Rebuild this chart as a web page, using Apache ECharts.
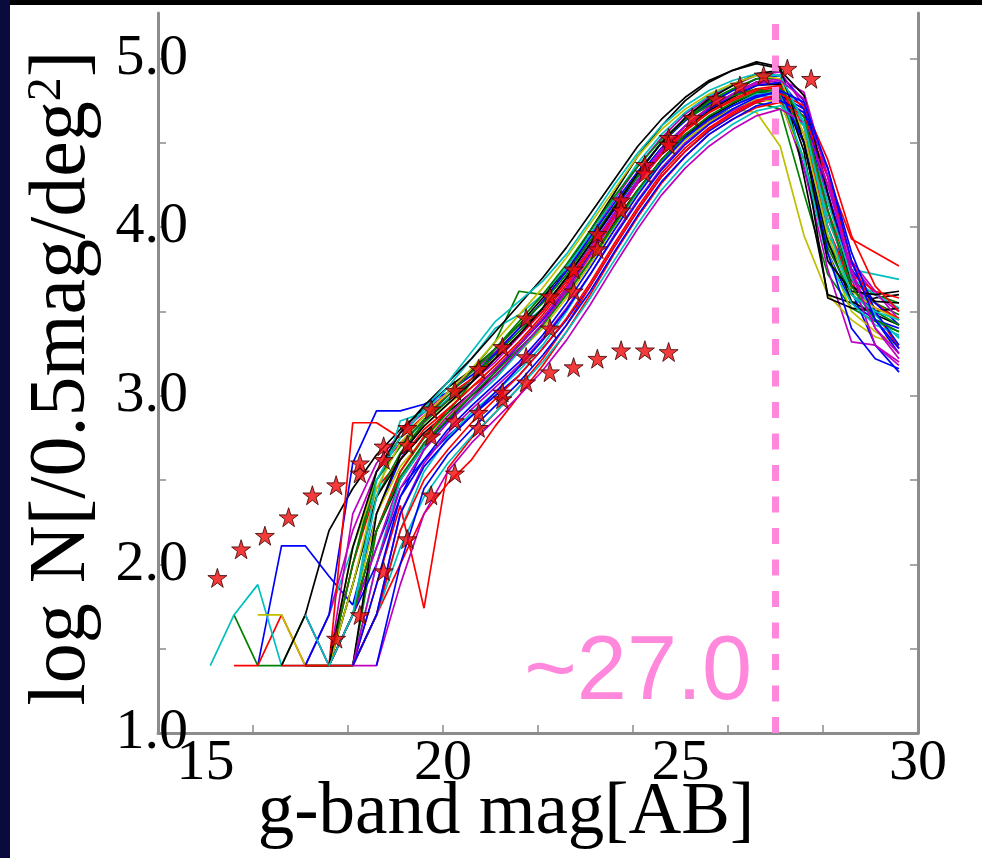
<!DOCTYPE html>
<html><head><meta charset="utf-8">
<script src="https://cdn.jsdelivr.net/npm/echarts@6/dist/echarts.min.js"></script>
<style>html,body{margin:0;padding:0;background:#fff;}#c{width:982px;height:858px;}</style>
</head><body><div id="c"></div>
<script>
// ---------- data ----------
const simMags = [15.1,15.6,16.1,16.6,17.1,17.6,18.1,18.6,19.1,19.6,20.1,20.6,21.1,21.6,22.1,22.6,23.1,23.6,24.1,24.6,25.1,25.6,26.1,26.6,27.1,27.6,28.1,28.6,29.1,29.6];
const n = null;
const sim01 = [n,n,1.40,2.11,2.11,1.93,1.76,2.30,2.62,2.85,2.98,3.08,3.22,3.36,3.52,3.70,3.90,4.10,4.30,4.47,4.60,4.71,4.79,4.86,4.84,4.35,3.85,3.55,3.45,3.40];
const sim02 = [n,1.70,1.40,1.40,1.70,1.40,2.00,2.55,2.75,2.92,3.05,3.15,3.32,3.62,3.60,3.74,3.92,4.12,4.30,4.44,4.55,4.64,4.70,4.74,4.70,4.20,3.72,3.52,3.44,3.38];
const sim03 = [n,1.40,1.40,1.70,1.40,1.40,2.00,2.45,2.62,2.80,2.92,3.05,3.15,3.30,3.45,3.62,3.82,4.03,4.22,4.40,4.53,4.63,4.70,4.75,4.78,4.62,4.30,3.93,3.85,3.77];
const sim04 = [1.40,1.70,1.88,1.40,1.40,1.70,2.10,2.50,2.70,2.85,2.98,3.10,3.25,3.40,3.52,3.68,3.88,4.08,4.28,4.46,4.60,4.70,4.78,4.85,4.85,4.50,3.95,3.75,3.72,3.69];
const sim05 = [n,n,n,n,1.40,1.70,2.20,2.55,2.72,2.85,2.97,3.08,3.20,3.35,3.50,3.68,3.88,4.08,4.27,4.43,4.55,4.65,4.72,4.78,4.76,4.35,3.75,3.32,3.30,3.20];
const sim06 = [n,n,1.70,1.70,1.40,1.40,2.10,2.50,2.70,2.82,2.95,3.05,3.18,3.32,3.46,3.62,3.82,4.02,4.22,4.38,4.52,4.62,4.70,4.68,4.48,3.95,3.60,3.45,3.35,3.30];
const sim07 = [n,n,n,1.40,1.70,2.20,2.45,2.65,2.80,2.92,3.05,3.15,3.28,3.42,3.58,3.76,3.98,4.20,4.42,4.60,4.75,4.86,4.93,4.98,4.95,4.30,3.60,3.55,3.58,3.60];
const sim08 = [n,n,n,n,n,1.40,1.70,2.10,2.45,2.62,2.76,2.88,3.00,3.12,3.28,3.45,3.65,3.88,4.10,4.30,4.45,4.57,4.66,4.74,4.78,4.70,4.10,3.62,3.30,3.14];
const sim09 = [n,n,n,n,1.40,1.40,1.88,2.40,2.66,2.84,2.97,3.10,3.24,3.38,3.52,3.70,3.90,4.12,4.32,4.50,4.64,4.74,4.81,4.88,4.90,4.60,4.00,3.62,3.55,3.48];
const sim10 = [n,n,n,n,n,n,1.40,1.88,2.35,1.74,2.57,2.75,2.90,3.05,3.22,3.42,3.65,3.88,4.10,4.30,4.45,4.58,4.67,4.74,4.77,4.62,4.05,3.70,3.55,3.45];
const sim11 = [n,n,n,n,n,1.40,1.40,1.70,2.20,2.55,2.75,2.90,3.02,3.15,3.30,3.50,3.72,3.95,4.16,4.35,4.50,4.62,4.70,4.77,4.80,4.55,3.95,3.60,3.45,3.35];
const sim12 = [n,n,n,n,1.70,1.40,2.30,2.60,2.78,2.90,3.02,3.14,3.26,3.40,3.56,3.74,3.95,4.16,4.36,4.53,4.67,4.77,4.84,4.90,4.92,4.72,4.15,3.78,3.60,3.50];
const sim13 = [n,n,n,n,n,1.40,1.70,2.30,2.58,2.75,2.88,3.00,3.12,3.26,3.40,3.58,3.78,4.00,4.20,4.38,4.52,4.62,4.70,4.76,4.74,4.40,3.85,3.50,3.38,3.30];
const sim14 = [n,n,n,n,n,1.40,1.88,2.40,2.62,2.78,2.90,3.02,3.16,3.30,3.46,3.64,3.84,4.06,4.26,4.44,4.58,4.69,4.77,4.84,4.85,4.45,3.58,3.52,3.50,3.52];
const sim15 = [n,n,n,n,1.40,1.70,2.60,2.91,2.91,2.95,3.02,3.12,3.25,3.40,3.56,3.74,3.94,4.14,4.33,4.50,4.63,4.73,4.81,4.88,4.90,4.75,4.20,3.75,3.55,3.42];
const sim16 = [n,n,n,n,n,1.40,2.84,2.84,2.75,2.88,3.00,3.10,3.22,3.36,3.50,3.68,3.86,4.06,4.26,4.44,4.58,4.68,4.75,4.81,4.83,4.60,4.10,3.72,3.62,3.58];
const sim17 = [n,n,n,n,n,n,1.40,2.20,2.55,2.75,2.90,3.08,3.28,3.42,3.55,3.72,3.92,4.12,4.32,4.50,4.64,4.75,4.82,4.88,4.88,4.50,3.90,3.68,3.60,3.55];
const sim18 = [n,n,n,n,n,1.40,1.70,2.40,2.85,2.90,3.05,3.22,3.40,3.48,3.60,3.76,3.96,4.17,4.38,4.55,4.68,4.78,4.85,4.90,4.90,4.60,4.05,3.70,3.60,3.52];
const sim19 = [n,n,n,n,n,n,1.40,1.70,2.30,2.60,2.78,2.92,3.05,3.18,3.34,3.52,3.72,3.95,4.16,4.35,4.50,4.61,4.69,4.75,4.77,4.68,4.25,3.80,3.62,3.45];
const sim20 = [n,n,n,n,1.40,1.40,1.70,2.20,2.50,2.70,2.86,3.00,3.12,3.26,3.42,3.60,3.80,4.02,4.22,4.40,4.54,4.65,4.73,4.80,4.80,4.50,3.92,3.56,3.48,3.42];
const sim21 = [n,n,n,n,n,1.40,1.70,2.00,2.40,2.68,2.85,3.00,3.14,3.30,3.45,3.62,3.84,4.06,4.27,4.45,4.60,4.70,4.78,4.84,4.86,4.70,4.20,3.72,3.45,3.25];
const sim22 = [n,n,n,n,n,n,1.40,1.70,2.00,2.30,2.48,2.62,2.82,3.00,3.18,3.38,3.60,3.84,4.06,4.26,4.42,4.55,4.64,4.71,4.74,4.66,4.30,3.80,3.50,3.28];
const sim23 = [n,n,n,n,n,1.40,2.00,2.50,2.70,2.86,3.00,3.14,3.28,3.44,3.60,3.78,3.98,4.18,4.36,4.52,4.64,4.72,4.78,4.82,4.78,4.40,3.88,3.60,3.50,3.42];
const sim24 = [n,n,n,n,n,n,1.70,2.10,2.50,2.72,2.88,3.02,3.16,3.30,3.46,3.64,3.86,4.08,4.28,4.46,4.60,4.71,4.79,4.86,4.88,4.80,4.30,3.70,3.30,3.18];
const sim25 = [n,n,n,1.40,1.40,1.40,1.70,2.20,2.55,2.76,2.92,3.05,3.18,3.32,3.48,3.66,3.86,4.06,4.26,4.43,4.57,4.68,4.76,4.82,4.84,4.55,4.00,3.66,3.52,3.46];
const sim26 = [n,n,n,n,1.70,1.40,1.40,2.00,2.50,2.70,2.84,2.97,3.10,3.26,3.42,3.60,3.80,4.01,4.21,4.39,4.53,4.64,4.72,4.79,4.80,4.40,3.80,3.55,3.42,3.36];
const sim27 = [n,n,n,n,n,1.40,1.40,2.30,2.65,2.82,2.95,3.08,3.22,3.36,3.52,3.70,3.90,4.11,4.32,4.50,4.65,4.76,4.84,4.91,4.93,4.78,4.20,3.65,3.56,3.55];
const sim28 = [n,n,n,n,n,n,1.40,1.88,2.40,2.62,2.80,2.94,3.07,3.20,3.36,3.55,3.76,3.98,4.19,4.38,4.53,4.64,4.72,4.78,4.80,4.50,3.85,3.40,3.22,3.16];
const sim29 = [n,n,n,n,n,n,1.40,1.70,2.10,2.40,2.60,2.76,2.90,3.05,3.20,3.38,3.58,3.80,4.02,4.22,4.38,4.51,4.61,4.69,4.72,4.60,4.15,3.70,3.48,3.34];
const sim30 = [n,n,n,n,n,n,1.40,1.40,1.88,2.30,2.55,2.72,2.86,3.00,3.15,3.33,3.54,3.77,3.99,4.19,4.35,4.48,4.58,4.66,4.70,4.62,4.25,3.75,3.40,3.22];
const sim31 = [n,n,n,n,n,n,n,1.40,2.00,2.45,2.65,2.80,2.94,3.08,3.24,3.42,3.62,3.85,4.07,4.27,4.42,4.55,4.64,4.72,4.75,4.68,4.35,3.85,3.50,3.30];
const sim32 = [n,n,n,n,n,1.40,1.88,2.45,2.72,2.88,3.02,3.16,3.32,3.48,3.64,3.82,4.02,4.22,4.42,4.58,4.70,4.79,4.85,4.90,4.88,4.55,3.95,3.62,3.52,3.45];
const sim33 = [n,n,n,n,n,1.40,2.10,2.55,2.78,2.94,3.08,3.22,3.38,3.54,3.70,3.88,4.08,4.28,4.48,4.64,4.77,4.87,4.93,4.97,4.94,4.50,3.80,3.62,3.60,3.62];
const sim34 = [n,n,n,n,n,n,1.70,2.20,2.52,2.72,2.86,3.00,3.14,3.28,3.42,3.60,3.80,4.01,4.22,4.40,4.55,4.66,4.74,4.80,4.82,4.65,4.10,3.65,3.45,3.38];
const sim35 = [n,n,n,n,n,1.40,1.40,1.70,2.20,2.50,2.68,2.84,2.98,3.12,3.28,3.46,3.67,3.90,4.12,4.32,4.47,4.59,4.68,4.75,4.79,4.72,4.40,3.95,3.65,3.50];
const sim36 = [n,n,n,n,n,1.40,1.70,2.50,2.75,2.92,3.08,3.26,3.44,3.56,3.68,3.84,4.04,4.25,4.44,4.60,4.72,4.81,4.87,4.91,4.90,4.62,4.00,3.60,3.50,3.45];
const sim37 = [n,n,n,n,n,n,1.40,2.00,2.45,2.68,2.84,2.98,3.12,3.27,3.43,3.62,3.83,4.05,4.26,4.45,4.60,4.71,4.79,4.85,4.87,4.76,4.30,3.72,3.40,3.25];
const sim38 = [n,n,n,n,n,n,1.40,1.70,2.30,2.58,2.74,2.88,3.02,3.17,3.33,3.51,3.72,3.94,4.15,4.34,4.49,4.61,4.70,4.77,4.81,4.74,4.35,3.80,3.45,3.28];
const simLines = [sim01,sim02,sim03,sim04,sim05,sim06,sim07,sim08,sim09,sim10,sim11,sim12,sim13,sim14,sim15,sim16,sim17,sim18,sim19,sim20,sim21,sim22,sim23,sim24,sim25,sim26,sim27,sim28,sim29,sim30,sim31,sim32,sim33,sim34,sim35,sim36,sim37,sim38];
const simColors = ['#0000ff','#008000','#ff0000','#00bfbf','#bf00bf','#bfbf00','#000000','#0000ff','#008000','#ff0000','#00bfbf','#bf00bf','#bfbf00','#000000','#0000ff','#ff0000','#008000','#00bfbf','#bf00bf','#000000','#0000ff','#ff0000','#008000','#bf00bf','#ff0000','#00bfbf','#000000','#0000ff','#00bfbf','#bf00bf','#0000ff','#bfbf00','#000000','#008000','#ff0000','#00bfbf','#bf00bf','#0000ff'];

// observed counts (stars)
const starMagsA = [15.25,15.75,16.25,16.75,17.25,17.75,18.25,18.75,19.25,19.75,20.25,20.75,21.25,21.75,22.25,22.75,23.25,23.75,24.25,24.75];
const starLogNA = [1.92,2.09,2.17,2.28,2.41,2.47,2.54,2.62,2.71,2.76,2.85,2.90,2.98,3.08,3.14,3.17,3.22,3.27,3.27,3.26];
const starMagsB = [18.25,18.75,19.25,19.75,20.25,20.75,21.25,21.75,22.25,22.75,23.25,23.75,24.25,24.75,25.25,25.75,26.25,26.75,27.25,27.75];
const starLogNB = [2.60,2.70,2.81,2.92,3.03,3.16,3.29,3.46,3.59,3.75,3.96,4.16,4.37,4.53,4.65,4.76,4.84,4.90,4.94,4.88];
const starMagsC = [17.75,18.25,18.75,19.25,19.75,20.25,20.75,21.25,21.75,22.25,22.75,23.25,23.75,24.25,24.75];
const starLogNC = [1.56,1.70,1.96,2.15,2.41,2.54,2.81,3.02,3.23,3.40,3.62,3.87,4.10,4.32,4.49];

const xTickValues = [16,18,20,22,24,26,28];
const xTickLabels = [15,20,25,30];
const yTickValues = [1.5,2.0,2.5,3.0,3.5,4.0,4.5,5.0];
const yTickLabels = [1,2,3,4,5];
const limitMag = 27.0;
const limitLabel = '~27.0';
const xTitle = 'g-band mag[AB]';
const yTitle = 'log N[/0.5mag/deg{s|2}]';

// ---------- chart ----------
const STAR = 'path://M50,0 L61.8,36.2 L100,36.2 L69.1,58.8 L80.9,95.1 L50,72.7 L19.1,95.1 L30.9,58.8 L0,36.2 L38.2,36.2 Z';
const axisGray = '#8c8c8c';
const serif = '"Liberation Serif","Times New Roman",serif';
const series = [];
simLines.forEach((arr, k) => {
  const d = [];
  arr.forEach((v, i) => { if (v !== null) d.push([simMags[i], v]); });
  series.push({type:'line', data:d, symbol:'none', silent:true, z:2,
    lineStyle:{color:simColors[k], width:1.7}, emphasis:{disabled:true}});
});
series.push({type:'line', data:[[limitMag,1.0],[limitMag,5.22]], symbol:'none', silent:true, z:3,
  lineStyle:{color:'#ff88dd', width:7, type:[16,15.5], cap:'butt'}});
[[starMagsA,starLogNA],[starMagsB,starLogNB],[starMagsC,starLogNC]].forEach(([xs,ys]) => {
  series.push({type:'scatter', data:xs.map((m,i)=>[m,ys[i]]), symbol:STAR, symbolSize:19, z:4, silent:true,
    itemStyle:{color:'#f00a0a', borderColor:'#3a0000', borderWidth:1}});
});

const chart = echarts.init(document.getElementById('c'), null, {renderer:'canvas'});
chart.setOption({
  animation:false,
  backgroundColor:'#ffffff',
  grid:{left:158, right:64, top:13, bottom:125, containLabel:false},
  xAxis:{type:'value', min:14, max:30,
    axisLine:{show:true, onZero:false, lineStyle:{color:axisGray, width:3}},
    axisTick:{show:true, inside:true, length:8, customValues:xTickValues, lineStyle:{color:axisGray, width:1.5}},
    axisLabel:{show:true, customValues:xTickLabels, fontFamily:serif, fontSize:58, color:'#000', margin:2},
    splitLine:{show:false}},
  yAxis:[
    {type:'value', min:1.0, max:5.27, position:'left',
      axisLine:{show:true, onZero:false, lineStyle:{color:axisGray, width:3}},
      axisTick:{show:true, inside:true, length:8, customValues:yTickValues, lineStyle:{color:axisGray, width:1.5}},
      axisLabel:{show:true, customValues:yTickLabels, formatter:(v)=>Number(v).toFixed(1), fontFamily:serif, fontSize:58, color:'#000', margin:-30},
      splitLine:{show:false}},
    {type:'value', min:1.0, max:5.27, position:'right',
      axisLine:{show:true, onZero:false, lineStyle:{color:axisGray, width:3}},
      axisTick:{show:true, inside:true, length:8, customValues:yTickValues, lineStyle:{color:axisGray, width:1.5}},
      axisLabel:{show:false}, splitLine:{show:false}}
  ],
  series: series,
  graphic:[
    {type:'rect', z:100, shape:{x:0,y:0,width:982,height:5}, style:{fill:'#000'}},
    {type:'rect', z:101, shape:{x:0,y:0,width:10,height:858}, style:{fill:'#0a0a3c'}},
    {type:'text', z:50, x:506, y:814, style:{text:xTitle, fontFamily:serif, fontSize:73, fill:'#000', align:'center', verticalAlign:'middle'}},
    {type:'text', z:50, x:63, y:378, rotation:Math.PI/2, style:{text:yTitle, fontFamily:serif, fontSize:80, fill:'#000', align:'center', verticalAlign:'middle',
      rich:{s:{fontFamily:serif, fontSize:48, fill:'#000', verticalAlign:'top'}}}},
    {type:'text', z:50, x:752, y:674, style:{text:limitLabel, fontFamily:'"Liberation Sans",Arial,sans-serif', fontSize:90, fill:'#ff88dd', align:'right', verticalAlign:'middle'}}
  ]
});
</script>
</body></html>
